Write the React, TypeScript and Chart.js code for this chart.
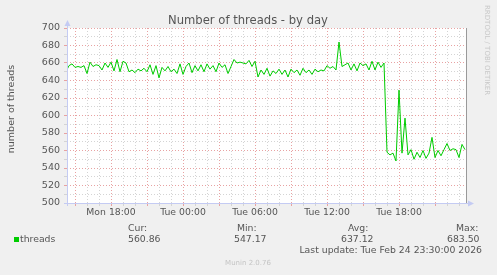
import React, { useEffect, useRef } from 'react';
import { Chart, registerables } from 'chart.js';

Chart.register(...registerables);

// time grid: hours since Mon 00:00, one sample every 15 minutes from Mon 14:15
const startHour = 14.25;
const stepHours = 0.25;
const viewMin = 14 + 1 / 3;
const viewMax = 47.5 + 1 / 12;

const threads = [
  650, 657, 659, 655, 656, 655, 657, 648, 661, 656,
  658, 657, 652, 660, 655, 661, 651, 664, 650, 662,
  660, 650, 652, 649, 653, 651, 654, 650, 658, 647,
  657, 643, 655, 651, 656, 650, 653, 648, 659, 647,
  656, 660, 649, 657, 651, 658, 650, 659, 653, 657,
  650, 660, 655, 658, 648, 656, 664, 660, 661, 660,
  659, 663, 656, 662, 644, 652, 647, 654, 645, 651,
  648, 653, 647, 652, 644, 653, 649, 652, 646, 654,
  649, 652, 647, 653, 650, 652, 651, 657, 654, 656,
  652, 684, 656, 658, 660, 652, 659, 651, 660, 657,
  659, 652, 662, 652, 661, 655, 660, 558, 555, 557,
  548, 629, 557, 597, 555, 561, 550, 558, 552, 560,
  551, 557, 575, 552, 560, 554, 561, 568, 560, 562,
  561, 552, 567, 561,
];

const xTickLabels: Record<number, string> = {
  18: 'Mon 18:00',
  24: 'Tue 00:00',
  30: 'Tue 06:00',
  36: 'Tue 12:00',
  42: 'Tue 18:00',
};
const xTickHours = [15, 16, 17, 18, 19, 20, 21, 22, 23, 24, 25, 26, 27, 28, 29, 30, 31, 32, 33, 34, 35, 36, 37, 38, 39, 40, 41, 42, 43, 44, 45, 46, 47];
const yTickValues = [500, 510, 520, 530, 540, 550, 560, 570, 580, 590, 600, 610, 620, 630, 640, 650, 660, 670, 680, 690, 700];

const titleText = 'Number of threads - by day';
const yTitleText = 'number of threads';
const seriesName = 'threads';
const legendHeaders = ['Cur:', 'Min:', 'Avg:', 'Max:'];
const legendValues = ['560.86', '547.17', '637.12', '683.50'];
const lastUpdateText = 'Last update: Tue Feb 24 23:30:00 2026';
const footerText = 'Munin 2.0.76';
const sideText = 'RRDTOOL / TOBI OETIKER';

const FONT = '"DejaVu Sans", sans-serif';
const TEXT = '#555555';
const MAJOR = '#e8a2a2';
const MINOR = '#d4d4d4';
const AXIS = '#c4cbf3';
const LINE = '#00cc00';

const headerX = [128, 237, 348, 456];
const valueX = [128, 234, 341, 447];

const muninPlugin = {
  id: 'muninDecor',
  beforeDraw(chart: any) {
    const { ctx, chartArea: a } = chart;
    ctx.save();
    ctx.fillStyle = '#f0f0f0';
    ctx.fillRect(0, 0, chart.width, chart.height);
    ctx.fillStyle = '#ffffff';
    ctx.fillRect(a.left, a.top, a.right - a.left, a.bottom - a.top);
    ctx.restore();
  },
  afterDraw(chart: any) {
    const { ctx, chartArea: a } = chart;
    ctx.save();
    // right frame line
    ctx.strokeStyle = '#9a9a9a';
    ctx.lineWidth = 1;
    ctx.beginPath();
    ctx.moveTo(Math.round(a.right) + 0.5, a.top);
    ctx.lineTo(Math.round(a.right) + 0.5, a.bottom);
    ctx.stroke();
    // axes
    ctx.strokeStyle = AXIS;
    ctx.beginPath();
    ctx.moveTo(a.left + 0.5, a.bottom + 3);
    ctx.lineTo(a.left + 0.5, a.top - 4);
    ctx.moveTo(a.left - 3, a.bottom + 0.5);
    ctx.lineTo(a.right + 4, a.bottom + 0.5);
    ctx.stroke();
    ctx.fillStyle = AXIS;
    ctx.beginPath();
    ctx.moveTo(a.left + 0.5, a.top - 8);
    ctx.lineTo(a.left - 2.5, a.top - 2);
    ctx.lineTo(a.left + 3.5, a.top - 2);
    ctx.closePath();
    ctx.fill();
    ctx.beginPath();
    ctx.moveTo(a.right + 8, a.bottom + 0.5);
    ctx.lineTo(a.right + 2, a.bottom - 2.5);
    ctx.lineTo(a.right + 2, a.bottom + 3.5);
    ctx.closePath();
    ctx.fill();

    // title
    ctx.fillStyle = TEXT;
    ctx.textBaseline = 'middle';
    ctx.textAlign = 'center';
    ctx.font = `11.6px ${FONT}`;
    ctx.fillText(titleText, 248, 21);

    // y title
    ctx.save();
    ctx.translate(12, 109);
    ctx.rotate(-Math.PI / 2);
    ctx.font = `9.5px ${FONT}`;
    ctx.fillText(yTitleText, 0, 0);
    ctx.restore();

    // side text
    ctx.save();
    ctx.translate(487, 5);
    ctx.rotate(Math.PI / 2);
    ctx.textAlign = 'left';
    ctx.fillStyle = '#c8c8c8';
    ctx.font = `7px ${FONT}`;
    ctx.fillText(sideText, 0, 0);
    ctx.restore();

    // legend
    ctx.font = `9.3px ${FONT}`;
    ctx.fillStyle = LINE;
    ctx.fillRect(14, 237, 5, 5);
    ctx.fillStyle = TEXT;
    ctx.textAlign = 'left';
    ctx.fillText(seriesName, 20, 239.5);
    legendHeaders.forEach((h, i) => ctx.fillText(h, headerX[i], 228.5));
    legendValues.forEach((v, i) => ctx.fillText(v, valueX[i], 239.5));
    ctx.textAlign = 'right';
    ctx.fillText(lastUpdateText, 482, 251);

    ctx.textAlign = 'center';
    ctx.fillStyle = '#c4c4c4';
    ctx.font = `7px ${FONT}`;
    ctx.fillText(footerText, 248, 263);
    ctx.restore();
  },
};

export default function App() {
  const ref = useRef<HTMLCanvasElement | null>(null);
  useEffect(() => {
    if (!ref.current) return;
    const points = threads.map((v, i) => ({ x: startHour + i * stepHours, y: v }));
    const chart = new Chart(ref.current, {
      type: 'line',
      data: {
        datasets: [
          {
            label: seriesName,
            data: points,
            borderColor: LINE,
            borderWidth: 1,
            pointRadius: 0,
            tension: 0,
            fill: false,
          },
        ],
      },
      options: {
        animation: false,
        responsive: false,
        devicePixelRatio: 1,
        layout: { padding: { top: 28, right: 31, left: 0, bottom: 0 } },
        plugins: { legend: { display: false }, tooltip: { enabled: false }, title: { display: false } },
        scales: {
          x: {
            type: 'linear',
            min: viewMin,
            max: viewMax,
            afterBuildTicks: (scale: any) => {
              scale.ticks = xTickHours.map((v) => ({ value: v }));
            },
            afterFit: (scale: any) => {
              scale.height = 72;
            },
            ticks: {
              autoSkip: false,
              maxRotation: 0,
              padding: 1,
              color: TEXT,
              font: { family: FONT, size: 9.3 },
              callback: (v: any) => xTickLabels[v as number] ?? '',
            },
            grid: {
              color: (c: any) => (c.tick && c.tick.value % 3 === 0 ? MAJOR : MINOR),
              tickColor: (c: any) => (c.tick && c.tick.value % 3 === 0 ? MAJOR : MINOR),
              tickLength: 3,
              lineWidth: 1,
            },
            border: { display: false, dash: [1, 2] },
          },
          y: {
            type: 'linear',
            min: 500,
            max: 700,
            afterBuildTicks: (scale: any) => {
              scale.ticks = yTickValues.map((v) => ({ value: v }));
            },
            afterFit: (scale: any) => {
              scale.width = 67;
            },
            ticks: {
              autoSkip: false,
              padding: 4,
              color: TEXT,
              font: { family: FONT, size: 9.5 },
              callback: (v: any) => ((v as number) % 20 === 0 ? String(v) : ''),
            },
            grid: {
              color: (c: any) => (c.tick && c.tick.value % 20 === 0 ? MAJOR : MINOR),
              tickColor: (c: any) => (c.tick && c.tick.value % 20 === 0 ? MAJOR : MINOR),
              tickLength: 3,
              lineWidth: 1,
            },
            border: { display: false, dash: [1, 2] },
          },
        },
      },
      plugins: [muninPlugin],
    });
    return () => chart.destroy();
  }, []);
  return (
    <div style={{ position: 'absolute', left: 0, top: 0, width: 497, height: 275 }}>
      <canvas ref={ref} width={497} height={275} style={{ display: 'block' }} />
    </div>
  );
}
